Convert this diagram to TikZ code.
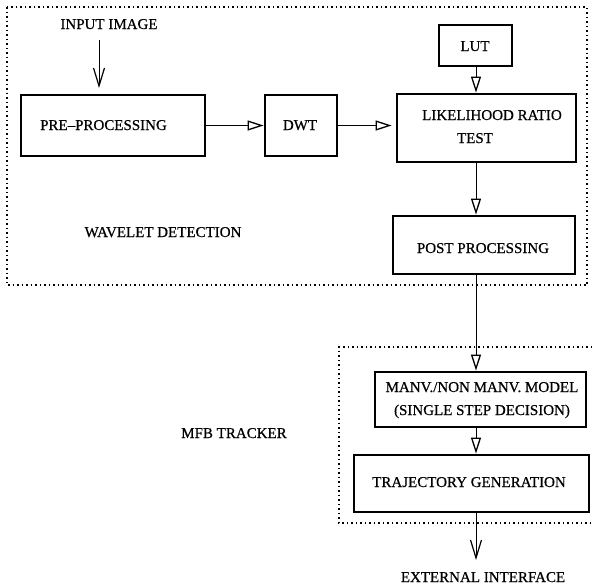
\documentclass[tikz,border=0pt]{standalone}
\usepackage{fontspec}
\setmainfont{Liberation Serif}[FakeBold=0.6]
\usetikzlibrary{arrows.meta}
\begin{document}
\begin{tikzpicture}[x=1pt,y=-1pt,
  box/.style={draw, line width=2.8pt, inner sep=0pt},
  lbl/.style={font=\fontsize{15}{23}\selectfont, inner sep=0pt, anchor=base},
  dots/.style={line width=2pt, dash pattern=on 1.5pt off 3pt},
  flow/.style={line width=1pt, -{Triangle[open,length=16pt,width=10pt,line width=1.3pt]}},
  vflow/.style={line width=1pt, -{Straight Barb[length=18pt,width=11pt,line width=1.2pt]}}
]
\useasboundingbox (0,0) rectangle (592,584);

% dotted group frames
\draw[dots] (7,7) rectangle (587,285);
\draw[dots] (592,347) -- (339,347) -- (339,523) -- (592,523);

% boxes
\node[box, minimum width=184pt, minimum height=61pt] (pre)  at (113,125.5) {};
\node[box, minimum width=72pt,  minimum height=61pt] (dwt)  at (301,125.5) {};
\node[box, minimum width=73pt,  minimum height=41pt] (lut)  at (475.5,45.5) {};
\node[box, minimum width=179pt, minimum height=68pt] (lrt)  at (486.5,128) {};
\node[box, minimum width=182pt, minimum height=58pt] (post) at (484,245) {};
\node[box, minimum width=211pt, minimum height=55pt] (manv) at (480.5,399.5) {};
\node[box, minimum width=235pt, minimum height=57pt] (traj) at (471.5,483.5) {};

% texts
\node[lbl] (tin)   at (109,29)   {INPUT IMAGE};
\node[lbl] (tpre)  at (103.5,130) {PRE--PROCESSING};
\node[lbl] (tdwt)  at (300,130)  {DWT};
\node[lbl] (tlut)  at (475,51)   {LUT};
\node[lbl] (tlrtA) at (492,120)  {LIKELIHOOD RATIO};
\node[lbl] (tlrtB) at (475,143)  {TEST};
\node[lbl] (tpost) at (483,253)  {POST PROCESSING};
\node[lbl] (twav)  at (163,237)  {WAVELET DETECTION};
\node[lbl] (tmfb)  at (234,438)  {MFB TRACKER};
\node[lbl] (tmanA) at (482,392)  {MANV./NON MANV. MODEL};
\node[lbl] (tmanB) at (482,415)  {(SINGLE STEP DECISION)};
\node[lbl] (ttraj) at (469,487)  {TRAJECTORY GENERATION};
\node[lbl] (text)  at (483,582)  {EXTERNAL INTERFACE};

% connectors
\coordinate (ax)  at (476,0);
\coordinate (inS) at (99,40);
\coordinate (inE) at (99,88);
\coordinate (exE) at (476,560);

\draw[vflow] (inS) -- (inE);
\draw[flow] (pre.east) -- (dwt.west);
\draw[flow, shorten >=4pt] (dwt.east) -- (dwt.east -| lrt.west);
\draw[flow] (ax |- lut.south) -- (ax |- lrt.north);
\draw[flow] (ax |- lrt.south) -- (ax |- post.north);
\draw[flow] (ax |- post.south) -- (ax |- manv.north);
\draw[flow] (ax |- manv.south) -- (ax |- traj.north);
\draw[vflow] (ax |- traj.south) -- (exE);
\end{tikzpicture}
\end{document}
